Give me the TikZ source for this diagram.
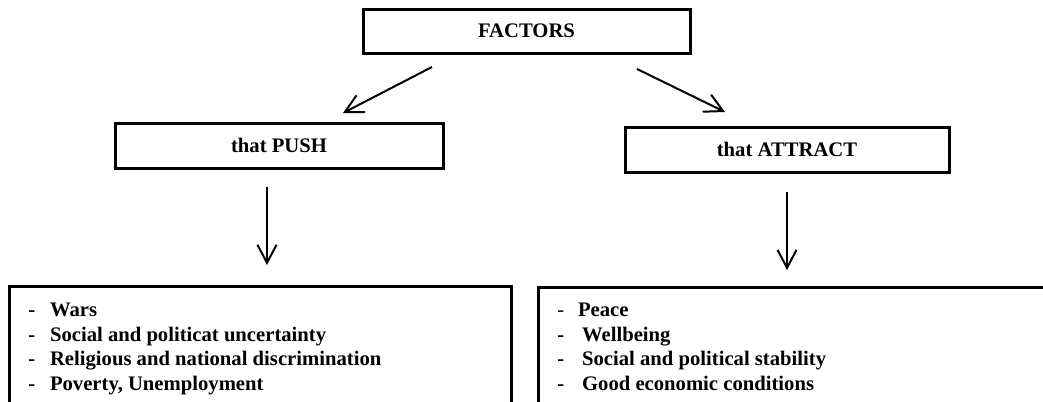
\documentclass[tikz,border=0pt]{standalone}
\usepackage{fontspec}
\setmainfont{Liberation Serif}
\usetikzlibrary{arrows.meta, positioning}
\definecolor{ink}{RGB}{0,0,0}

\begin{document}
\begin{tikzpicture}[
    x=0.75pt, y=-0.75pt,
    box/.style={rectangle, draw=ink, fill=white, line width=2.25pt,
                font=\fontsize{15.5}{18.4}\selectfont\bfseries,
                minimum height=33.75pt, inner sep=0pt, outer sep=0pt},
    listbox/.style={rectangle, draw=ink, line width=2.25pt,
                minimum height=120pt, inner sep=0pt, outer sep=0pt},
    listtext/.style={align=left, inner sep=0pt,
                font=\fontsize{15.5}{18.4}\selectfont\bfseries},
    arr/.style={-{Straight Barb[length=13.5pt, width=14.25pt]},
                line width=1.5pt, draw=ink}
  ]
    \useasboundingbox (0,0) rectangle (1043,401);
    \clip (0,0) rectangle (1043,401);

    \node[box, minimum width=245.25pt, minimum height=33pt] (factors) at (526.5,31) {FACTORS};
    \node[box, minimum width=246pt] (push) at (279,145.5) {that PUSH};
    \node[box, minimum width=243pt] (attract) at (787,149.5) {that ATTRACT};

    \node[listbox, minimum width=376.5pt, anchor=north west] (pushbox) at (9,286) {};
    \node[listbox, minimum width=405pt, anchor=north west] (attractbox) at (538,287) {};

    \node[listtext, below right=12.5pt and 14.25pt of pushbox.north west] (pushlist)
      {-\hspace{0.72em}Wars\\
       -\hspace{0.72em}Social and politicat uncertainty\\
       -\hspace{0.72em}Religious and national discrimination\\
       -\hspace{0.72em}Poverty, Unemployment};
    \node[listtext, below right=11.75pt and 14.25pt of attractbox.north west] (attractlist)
      {{\mdseries -}\hspace{0.67em}Peace\\
       -\hspace{0.87em}Wellbeing\\
       -\hspace{0.87em}Social and political stability\\
       -\hspace{0.87em}Good economic conditions};

    \draw[arr, shorten <=22.8pt, shorten >=16.3pt]
      ([xshift=-50.6pt]factors.south) -- ([xshift=33.5pt]push.north);
    \draw[arr, shorten <=27.3pt, shorten >=25.6pt]
      ([xshift=58.4pt]factors.south) -- ([xshift=-23.5pt]attract.north);
    \draw[arr, shorten <=14.25pt, shorten >=15.75pt]
      ([xshift=-9pt]push.south) -- ([xshift=-9pt]push.south |- pushbox.north);
    \draw[arr, shorten <=15pt, shorten >=12.75pt]
      (attract.south) -- (attract.south |- attractbox.north);
  \end{tikzpicture}
\end{document}
